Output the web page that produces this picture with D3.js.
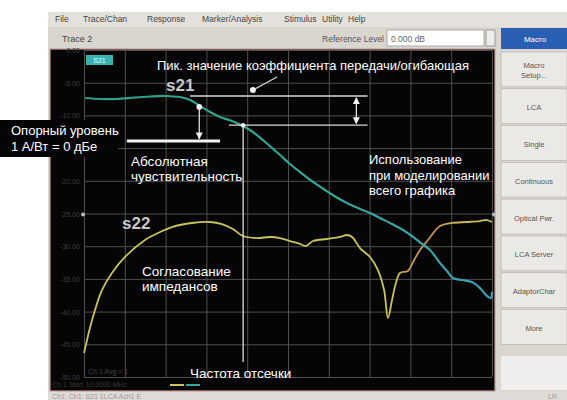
<!DOCTYPE html>
<html><head><meta charset="utf-8">
<script src="https://cdn.jsdelivr.net/npm/d3@7"></script>
<style>
html,body{margin:0;padding:0;background:#fff;}
svg{display:block;font-family:'Liberation Sans',Arial,sans-serif;}
</style></head>
<body>
<svg id="c" width="567" height="400"></svg>
<script>
// ---- data ----
const freqTicks = [0,2,4,6,8,10,12,14,16,18,20];          // GHz gridlines
const dbTicks = [0,-5,-10,-15,-20,-25,-30,-35,-40,-45,-50];
const dbTickLabels = ["0.00","-5.00","-10.00","-15.00","-20.00","-25.00","-30.00","-35.00","-40.00","-45.00","-50.00"];

const s21Freq = [0.05,0.78,1.62,2.50,3.24,3.97,4.71,5.20,5.69,6.18,6.67,7.25,7.79,8.28,8.77,9.22,9.61,10.10,10.59,11.23,11.81,12.35,12.89,13.43,14.02,14.51,15.10,15.64,16.13,16.57,16.96,17.45,17.79,18.09,18.53,19.02,19.41,19.76,19.95,20.0];
const s21Db   = [-7.34,-7.49,-7.49,-7.26,-7.11,-7.03,-7.19,-7.65,-8.56,-9.48,-10.24,-10.86,-11.62,-12.54,-13.76,-14.99,-16.06,-17.43,-18.66,-20.18,-21.41,-22.48,-23.40,-24.16,-24.92,-25.69,-26.61,-27.52,-28.59,-29.66,-30.58,-32.57,-33.79,-34.86,-35.17,-35.48,-36.39,-37.62,-37.92,-37.0];

const s22Freq = [0.00,0.15,0.29,0.54,0.88,1.37,2.01,2.99,3.73,4.31,5.29,6.18,6.76,7.30,7.79,8.48,9.12,9.61,10.10,10.59,10.88,11.23,11.91,12.55,12.89,13.14,13.53,14.02,14.41,14.71,14.90,15.10,15.29,15.49,15.88,16.13,16.47,16.86,17.45,18.04,18.77,19.41,19.76,20.0];
const s22Db   = [-46.33,-44.34,-42.51,-39.76,-36.70,-34.10,-31.65,-29.05,-27.83,-27.07,-26.45,-26.30,-26.61,-27.37,-28.44,-28.75,-28.59,-28.75,-29.21,-29.66,-29.97,-29.21,-28.90,-28.59,-28.29,-28.59,-30.28,-31.65,-33.64,-36.70,-40.98,-38.23,-35.63,-34.10,-33.79,-32.42,-30.58,-29.05,-26.91,-26.45,-26.30,-26.15,-26.00,-26.30];

// annotation anchors (data units)
const sensFreq = 5.65, sensDb = -13.9, sensTopDb = -8.7, sensLineFrom = 2.1, sensLineTo = 6.67;
const cutoffFreq = 7.8, cutoffDb = -11.5, cutoffBottomDb = -47.7;
const bandLineFrom = 5.2, bandLineEnd = 13.9, bandArrowFreq = 13.35, bandLowFrom = 7.1;
const pointerStart = [9.46, -4.13], pointerEnd = [8.28, -6.12];

const menuItems = ["File","Trace/Chan","Response","Marker/Analysis","Stimulus","Utility","Help"];
const menuX = [55,83,147,202,284,322,348];
const buttonLabels = [["Macro","Setup..."],["LCA"],["Single"],["Continuous"],["Optical Pwr."],["LCA Server"],["AdaptorChar"],["More"]];

// ---- drawing ----
const svg = d3.select("#c");
const x = d3.scaleLinear().domain([0,20]).range([84,492]);
const y = d3.scaleLinear().domain([0,-50]).range([50,377]);

// window chrome
svg.append("rect").attr("x",48).attr("y",12).attr("width",519).attr("height",388).attr("fill","#d9d6d0");
svg.append("rect").attr("x",48).attr("y",12).attr("width",519).attr("height",15).attr("fill","#e4e1dc");
svg.selectAll("text.menu").data(menuItems).join("text").attr("class","menu")
  .attr("x",(d,i)=>menuX[i]).attr("y",22).attr("font-size",8.5).attr("fill","#444").text(d=>d);
svg.append("text").attr("x",62).attr("y",42).attr("font-size",9).attr("fill","#444").text("Trace 2");
svg.append("text").attr("x",384).attr("y",42).attr("font-size",8.5).attr("fill","#555").attr("text-anchor","end").text("Reference Level");
svg.append("rect").attr("x",387).attr("y",30).attr("width",97).attr("height",16).attr("fill","#fff").attr("stroke","#aaa");
svg.append("text").attr("x",391).attr("y",42).attr("font-size",8.5).attr("fill","#666").text("0.000 dB");
svg.append("rect").attr("x",486).attr("y",30).attr("width",9).attr("height",16).attr("fill","#eee").attr("stroke","#999");

// right panel buttons
svg.append("rect").attr("x",501).attr("y",28).attr("width",66).attr("height",21).attr("fill","#2b5fb3");
svg.append("text").attr("x",535).attr("y",42).attr("font-size",8).attr("fill","#fff").attr("text-anchor","middle").text("Macro");
const btnTop = 52, btnH = 36.8;
buttonLabels.forEach((lab,i)=>{
  const top = btnTop + i*btnH;
  svg.append("rect").attr("x",501).attr("y",top).attr("width",66).attr("height",btnH-2).attr("fill","#ebe9e5").attr("stroke","#bdbab4").attr("stroke-width",0.8);
  lab.forEach((t,j)=>{
    svg.append("text").attr("x",534).attr("y",top+btnH/2+3 + (j-(lab.length-1)/2)*10)
      .attr("font-size",7.5).attr("fill","#555").attr("text-anchor","middle").text(t);
  });
});
svg.append("rect").attr("x",501).attr("y",356).attr("width",66).attr("height",34).attr("fill","#efeeec");

// status bar
svg.append("rect").attr("x",48).attr("y",391).attr("width",519).attr("height",9).attr("fill","#dedbd6");
svg.append("text").attr("x",52).attr("y",399).attr("font-size",7).attr("fill","#999").text("Ch1:    Ch1: S21                                       1LCA            Ach1 E");
svg.append("text").attr("x",548).attr("y",399).attr("font-size",7).attr("fill","#999").text("LR");

// plot background
svg.append("rect").attr("x",50).attr("y",49).attr("width",445).attr("height",342).attr("fill","#050505").attr("stroke","#c99a9a").attr("stroke-width",1.2);

// grid via axes
const gx = svg.append("g").attr("transform",`translate(0,${y(-50)})`)
  .call(d3.axisBottom(x).tickValues(freqTicks).tickSize(-(y(-50)-y(0))).tickFormat(""));
const gy = svg.append("g").attr("transform",`translate(${x(0)},0)`)
  .call(d3.axisLeft(y).tickValues(dbTicks).tickSize(-(x(20)-x(0))).tickFormat(""));
[gx,gy].forEach(g=>{ g.select(".domain").remove(); g.selectAll(".tick line").attr("stroke","#4f4f4f").attr("stroke-width",1); });

// reference-label box region (hides the scale labels under it)
const boxTop = 120, boxBottom = 157;
const visibleTicks = dbTicks.map((d,i)=>({d,i})).filter(o=>y(o.d)<boxTop-2 || y(o.d)>boxBottom+2);
svg.selectAll("text.yl").data(visibleTicks).join("text").attr("class","yl")
  .attr("x",80).attr("y",o=>y(o.d)+3).attr("text-anchor","end").attr("font-size",7).attr("fill","#3e3e3e")
  .text(o=>dbTickLabels[o.i]);

// small footers inside plot
svg.append("text").attr("x",88).attr("y",374).attr("font-size",7).attr("fill","#444").text("Ch 1 Avg = 1");
svg.append("text").attr("x",52).attr("y",387).attr("font-size",7).attr("fill","#3a3a3a").text("Ch 1   Start  10.0000 MHz");
svg.append("line").attr("x1",170).attr("x2",184).attr("y1",385).attr("y2",385).attr("stroke","#c9c45a").attr("stroke-width",2);
svg.append("line").attr("x1",186).attr("x2",200).attr("y1",385).attr("y2",385).attr("stroke","#39a8a0").attr("stroke-width",2);
svg.append("rect").attr("x",86).attr("y",55).attr("width",27).attr("height",10).attr("fill","#3cb2b0");
svg.append("text").attr("x",99.5).attr("y",63).attr("font-size",7).attr("fill","#e8ffff").attr("text-anchor","middle").text("S21");
svg.append("circle").attr("cx",83).attr("cy",y(-25)+1).attr("r",2).attr("fill","#bbb");
svg.append("circle").attr("cx",494).attr("cy",y(-25)+1).attr("r",2).attr("fill","#bbb");

// gradients
const defs = svg.append("defs");
const g21 = defs.append("linearGradient").attr("id","g21").attr("gradientUnits","userSpaceOnUse")
  .attr("x1",x(0)).attr("x2",x(20)).attr("y1",0).attr("y2",0);
g21.append("stop").attr("offset","0").attr("stop-color","#2f9f83");
g21.append("stop").attr("offset","0.6").attr("stop-color","#36a796");
g21.append("stop").attr("offset","1").attr("stop-color","#3c9fb6");
const g22 = defs.append("linearGradient").attr("id","g22").attr("gradientUnits","userSpaceOnUse")
  .attr("x1",x(0)).attr("x2",x(20)).attr("y1",0).attr("y2",0);
[[0,"#c8c35a"],[0.76,"#c8c35a"],[0.79,"#c99a55"],[0.86,"#c48c50"],[0.9,"#c8b25a"],[1,"#c8c35a"]]
  .forEach(s=>g22.append("stop").attr("offset",s[0]).attr("stop-color",s[1]));

const line = d3.line().x(d=>x(d[0])).y(d=>y(d[1])).curve(d3.curveCatmullRom.alpha(0.5));
svg.append("path").datum(s22Freq.map((f,i)=>[f,s22Db[i]])).attr("d",line)
  .attr("fill","none").attr("stroke","url(#g22)").attr("stroke-width",1.8);
svg.append("path").datum(s21Freq.map((f,i)=>[f,s21Db[i]])).attr("d",line)
  .attr("fill","none").attr("stroke","url(#g21)").attr("stroke-width",2.2);

// annotations
const W = "#f2f2f2";
const peakDb = d3.max(s21Db);
svg.append("line").attr("x1",x(bandLineFrom)).attr("x2",x(bandLineEnd)).attr("y1",y(peakDb)).attr("y2",y(peakDb)).attr("stroke","#d8d8d8").attr("stroke-width",1.3);
svg.append("line").attr("x1",x(bandLowFrom)).attr("x2",x(bandLineEnd)).attr("y1",y(cutoffDb)).attr("y2",y(cutoffDb)).attr("stroke","#d8d8d8").attr("stroke-width",1.3);
// double arrow
const ax = x(bandArrowFreq);
svg.append("line").attr("x1",ax).attr("x2",ax).attr("y1",y(peakDb)+2).attr("y2",y(cutoffDb)-2).attr("stroke",W).attr("stroke-width",1.2);
svg.append("path").attr("d",`M${ax},${y(peakDb)+1} l-3.5,7 h7 z`).attr("fill",W);
svg.append("path").attr("d",`M${ax},${y(cutoffDb)-1} l-3.5,-7 h7 z`).attr("fill",W);
// cutoff vertical
svg.append("line").attr("x1",x(cutoffFreq)).attr("x2",x(cutoffFreq)).attr("y1",y(cutoffDb)).attr("y2",y(cutoffBottomDb)).attr("stroke","#e0e0e0").attr("stroke-width",1.3);
svg.append("circle").attr("cx",x(cutoffFreq)).attr("cy",y(cutoffDb)).attr("r",2.2).attr("fill",W);
// peak pointer arrow
svg.append("line").attr("x1",x(pointerStart[0])).attr("y1",y(pointerStart[1])).attr("x2",x(pointerEnd[0])).attr("y2",y(pointerEnd[1])).attr("stroke","#cfcfcf").attr("stroke-width",1.3);
svg.append("circle").attr("cx",x(pointerEnd[0])).attr("cy",y(pointerEnd[1])).attr("r",3).attr("fill",W);
// absolute sensitivity
svg.append("line").attr("x1",x(sensLineFrom)).attr("x2",x(sensLineTo)).attr("y1",y(sensDb)).attr("y2",y(sensDb)).attr("stroke",W).attr("stroke-width",3);
const sx = x(sensFreq);
svg.append("line").attr("x1",sx).attr("x2",sx).attr("y1",y(sensTopDb)).attr("y2",y(sensDb)-2).attr("stroke",W).attr("stroke-width",1.2);
svg.append("circle").attr("cx",sx).attr("cy",y(sensTopDb)).attr("r",2.8).attr("fill",W);
svg.append("path").attr("d",`M${sx},${y(sensDb)-1.5} l-3.5,-7 h7 z`).attr("fill",W);

// reference label box (black background behind the text)
svg.append("rect").attr("x",0).attr("y",boxTop).attr("width",118).attr("height",boxBottom-boxTop).attr("fill","#050505");

const T = (t,xx,yy,opt={})=>svg.append("text").attr("x",xx).attr("y",yy)
  .attr("font-size",opt.size||13.5).attr("fill",opt.fill||"#fff").attr("font-weight",opt.bold?"bold":"normal").text(t);
T("Пик. значение коэффициента передачи/огибающая",157,70,{size:13});
T("s21",166,91,{size:17,bold:true,fill:"#c8c8c8"});
T("s22",122,229,{size:17,bold:true,fill:"#c8c8c8"});
T("Опорный уровень",11,135,{size:13});
T("1 А/Вт = 0 дБе",11,151,{size:13});
T("Абсолютная",131,166);
T("чувствительность",131,181);
T("Использование",369,164,{size:13});
T("при моделировании",369,180,{size:13});
T("всего графика",369,195,{size:13});
T("Согласование",142,276);
T("импедансов",142,291);
T("Частота отсечки",190,378);
</script>
</body></html>
